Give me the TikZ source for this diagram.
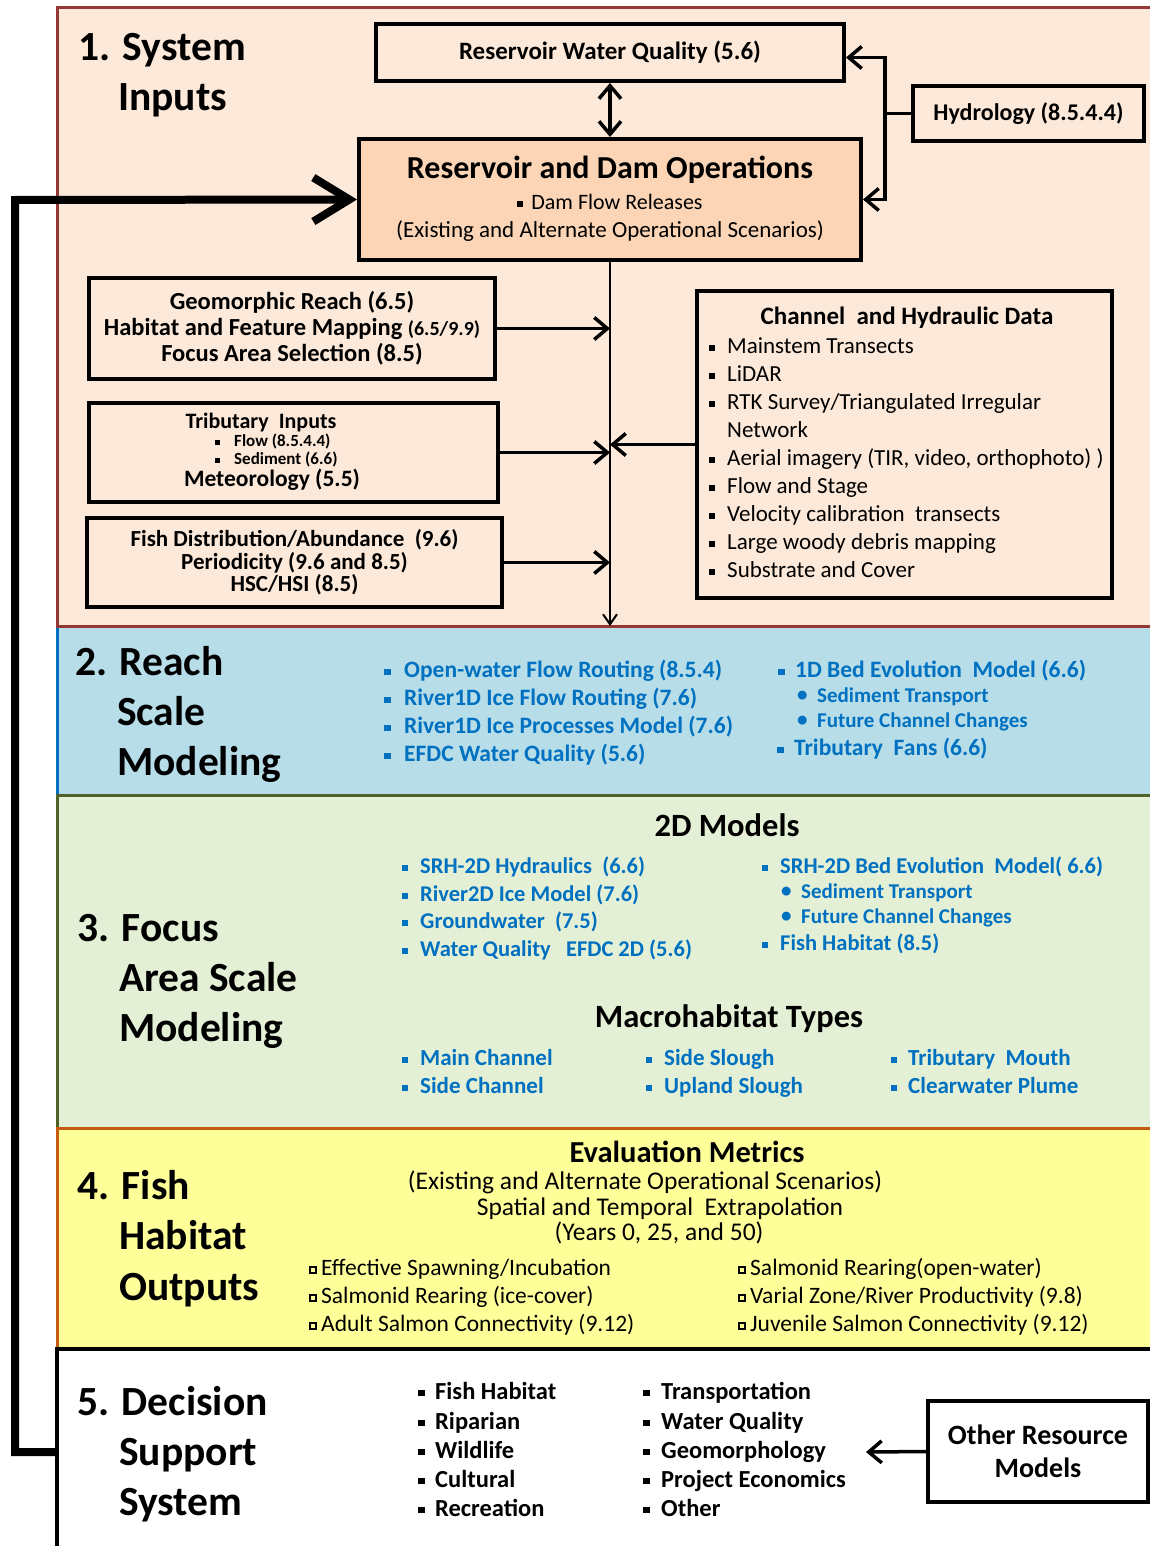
\documentclass[tikz,border=0pt]{standalone}
\usepackage{fontspec}
\setmainfont{Carlito}
\usetikzlibrary{arrows.meta}
\definecolor{pAfill}{HTML}{FDE9D9}
\definecolor{pAline}{HTML}{953735}
\definecolor{damfill}{HTML}{FBD5B5}
\definecolor{pBfill}{HTML}{B7DDE8}
\definecolor{pBline}{HTML}{0070C0}
\definecolor{pCfill}{HTML}{E4F0D6}
\definecolor{pCline}{HTML}{4F6228}
\definecolor{pDfill}{HTML}{FFFF99}
\definecolor{pDline}{HTML}{C55A11}
\definecolor{bluetext}{HTML}{0070C0}
\newcommand\fsz[2]{\fontsize{#1}{#2}\selectfont}
\newcommand\sqb{\rule[0.12em]{0.27em}{0.27em}}
\newcommand\hsq{{\setlength\fboxsep{0pt}\setlength\fboxrule{0.06em}\raisebox{0.15em}{\fbox{\makebox[0.2em]{\rule{0pt}{0.2em}}}}}}
\newcommand\dotb{\raisebox{0.05em}{\textbullet}}
\newcommand\itm[3]{\makebox[#1][l]{#2}#3}
\begin{document}
\begin{tikzpicture}[x=1pt,y=-1pt,
  box/.style={draw=black, line width=4, inner sep=0pt, align=center},
  lbl/.style={inner sep=0pt, anchor=base west, yshift={-0.33*#1}},
  ctr/.style={inner sep=0pt, anchor=base, align=center, yshift={-0.33*#1}},
  head/.style={lbl=41.5, font=\fsz{41.5}{41.5}\bfseries},
  conn/.style={line width=3.5, -{Straight Barb[length=13pt,width=22pt]}},
  bta/.style={lbl=23.5, text=bluetext, font=\fsz{23.5}{23.5}\bfseries},
  btb/.style={lbl=21, text=bluetext, font=\fsz{21}{21}\bfseries},
  btc/.style={lbl=22.5, text=bluetext, font=\fsz{22.5}{22.5}\bfseries},
  btd/.style={lbl=23, text=bluetext, font=\fsz{23}{23}\bfseries},
  chl/.style={lbl=23, font=\fsz{23}{23}},
  evl/.style={lbl=23.5, font=\fsz{23.5}{23.5}},
  dsl/.style={lbl=24.5, font=\fsz{24.5}{24.5}\bfseries}]
\useasboundingbox (0,0) rectangle (1149,1546);
% ---- panel backgrounds
\fill[pAfill] (57,8) rectangle (1170,626);
\fill[pBfill] (57,626) rectangle (1170,795);
\fill[pCfill] (57,795) rectangle (1170,1128);
\fill[pDfill] (57,1128) rectangle (1170,1349);
\draw[pAline, line width=3] (1170,8) -- (57,8) -- (57,626) -- (1170,626);
\draw[pBline, line width=3] (57,627.5) -- (57,795);
\draw[pCline, line width=3] (1170,795) -- (57,795) -- (57,1128);
\draw[pDline, line width=3] (1170,1128) -- (57,1128) -- (57,1349);
\draw[black, line width=4] (1170,1349) -- (57,1349) -- (57,1550);
\coordinate (p5left) at (57,1452);
\coordinate (fbk) at (15,200);
\coordinate (p2top) at (610,626);
\coordinate (dsarr) at (866,1452);
% ---- panel 1
\node[head] (h1a) at (78,47) {1. System};
\node[head] (h1b) at (118,97) {Inputs};
\node[box, minimum width=468, minimum height=57, font=\fsz{25}{25}\bfseries] (rwq) at (610,52.5) {Reservoir Water Quality (5.6)};
\node[box, minimum width=231, minimum height=55, font=\fsz{24}{24}\bfseries] (hyd) at (1028.5,113.5) {Hydrology (8.5.4.4)};
\node[box, fill=damfill, minimum width=502, minimum height=121] (rdo) at (610,199.5) {};
\node[ctr=32, font=\fsz{32}{32}\bfseries] (rdot) at (610,168) {Reservoir and Dam Operations};
\node[ctr=22, font=\fsz{22}{22}] (rdoa) at (610,202) {\sqb\hspace{8pt}Dam Flow Releases};
\node[ctr=23, font=\fsz{23}{23}] (rdob) at (610,230) {(Existing and Alternate Operational Scenarios)};
\node[box, minimum width=406, minimum height=101, font=\fsz{24.5}{26}\bfseries] (geo) at (292,328.5) {Geomorphic Reach (6.5)\\Habitat and Feature Mapping {\fsz{20}{26}(6.5/9.9)}\\Focus Area Selection (8.5)};
\node[box, minimum width=409, minimum height=99] (trib) at (293.5,452.5) {};
\node[ctr=22, font=\fsz{22}{22}\bfseries] (triba) at (261,421) {Tributary\ \ Inputs};
\node[lbl=17, font=\fsz{17}{17}\bfseries] (tribb) at (215,441) {\itm{19pt}{\sqb}{Flow (8.5.4.4)}};
\node[lbl=17, font=\fsz{17}{17}\bfseries] (tribc) at (215,459) {\itm{19pt}{\sqb}{Sediment (6.6)}};
\node[ctr=23.5, font=\fsz{23.5}{23.5}\bfseries] (tribd) at (272,479) {Meteorology (5.5)};
\node[box, minimum width=415, minimum height=89, font=\fsz{23}{22.5}\bfseries] (fish) at (294.5,562.5) {Fish Distribution/Abundance\ \ (9.6)\\Periodicity (9.6 and 8.5)\\HSC/HSI (8.5)};
\node[box, minimum width=415, minimum height=307] (chan) at (904.5,444.5) {};
\node[ctr=25, font=\fsz{25}{25}\bfseries] (chant) at (907,316) {Channel\ \ and Hydraulic Data};
\node[chl] (cha) at (709,346) {\itm{18pt}{\sqb}{Mainstem Transects}};
\node[chl] (chb) at (709,374) {\itm{18pt}{\sqb}{LiDAR}};
\node[chl] (chc) at (709,402) {\itm{18pt}{\sqb}{RTK Survey/Triangulated Irregular}};
\node[chl] (chd) at (727,430) {Network};
\node[chl] (che) at (709,458) {\itm{18pt}{\sqb}{Aerial imagery (TIR, video, orthophoto) )}};
\node[chl] (chf) at (709,486) {\itm{18pt}{\sqb}{Flow and Stage}};
\node[chl] (chg) at (709,514) {\itm{18pt}{\sqb}{Velocity calibration\ \ transects}};
\node[chl] (chh) at (709,542) {\itm{18pt}{\sqb}{Large woody debris mapping}};
\node[chl] (chi) at (709,570) {\itm{18pt}{\sqb}{Substrate and Cover}};
% connectors panel 1
\draw[line width=8, -{Straight Barb[length=36pt,width=44pt]}] (p5left) -| (fbk) -- (rdo.west);
\draw[line width=3.5, {Straight Barb[length=13pt,width=22pt]}-{Straight Barb[length=13pt,width=22pt]}] (rwq.south) -- (rdo.north);
\draw[line width=3.5] (hyd.west) -- ++(-26,0) coordinate (hj);
\draw[conn] (hj) |- ([yshift=-5pt]rwq.east);
\draw[conn] (hj) |- (rdo.east);
\draw[line width=2, -{Straight Barb[length=10pt,width=14pt]}] (rdo.south) -- (p2top);
\draw[conn] (geo.east) -- (geo.east -| rdo.south);
\draw[conn] (trib.east) -- (trib.east -| rdo.south);
\draw[conn] (fish.east) -- (fish.east -| rdo.south);
\draw[conn] (chan.west) -- (chan.west -| rdo.south);
% ---- panel 2
\node[head] (h2a) at (75,662) {2. Reach};
\node[head] (h2b) at (117,712) {Scale};
\node[head] (h2c) at (117,762) {Modeling};
\node[bta] (ra) at (384,670) {\itm{20pt}{\sqb}{Open-water Flow Routing (8.5.4)}};
\node[bta] (rb) at (384,698) {\itm{20pt}{\sqb}{River1D Ice Flow Routing (7.6)}};
\node[bta] (rc) at (384,726) {\itm{20pt}{\sqb}{River1D Ice Processes Model (7.6)}};
\node[bta] (rd) at (384,754) {\itm{20pt}{\sqb}{EFDC Water Quality (5.6)}};
\node[bta] (re) at (778,670) {\itm{17pt}{\sqb}{1D Bed Evolution\ \ Model (6.6)}};
\node[btb] (rf) at (797,696) {\itm{20pt}{\dotb}{Sediment Transport}};
\node[btb] (rg) at (797,721) {\itm{20pt}{\dotb}{Future Channel Changes}};
\node[bta] (rh) at (777,748) {\itm{17pt}{\sqb}{Tributary\ \ Fans (6.6)}};
% ---- panel 3
\node[head] (h3a) at (77,928) {3. Focus};
\node[head] (h3b) at (119,978) {Area Scale};
\node[head] (h3c) at (119,1028) {Modeling};
\node[ctr=32.5, font=\fsz{32.5}{32.5}\bfseries] (tdm) at (727,826) {2D Models};
\node[btc] (fa) at (402,866) {\itm{18pt}{\sqb}{SRH-2D Hydraulics\ \ (6.6)}};
\node[btc] (fb) at (402,894) {\itm{18pt}{\sqb}{River2D Ice Model (7.6)}};
\node[btc] (fc) at (402,921) {\itm{18pt}{\sqb}{Groundwater\ \ (7.5)}};
\node[btc] (fd) at (402,949) {\itm{18pt}{\sqb}{Water Quality\ \ \ EFDC 2D (5.6)}};
\node[btc] (fe) at (762,866) {\itm{18pt}{\sqb}{SRH-2D Bed Evolution\ \ Model( 6.6)}};
\node[btb] (ff) at (781,892) {\itm{20pt}{\dotb}{Sediment Transport}};
\node[btb] (fg) at (781,917) {\itm{20pt}{\dotb}{Future Channel Changes}};
\node[btc] (fh) at (762,943) {\itm{18pt}{\sqb}{Fish Habitat\ (8.5)}};
\node[ctr=32.5, font=\fsz{32.5}{32.5}\bfseries] (mht) at (729,1017) {Macrohabitat Types};
\node[btd] (ma) at (402,1058) {\itm{18pt}{\sqb}{Main Channel}};
\node[btd] (mb) at (402,1086) {\itm{18pt}{\sqb}{Side Channel}};
\node[btd] (mc) at (646,1058) {\itm{18pt}{\sqb}{Side Slough}};
\node[btd] (md) at (646,1086) {\itm{18pt}{\sqb}{Upland Slough}};
\node[btd] (me) at (891,1058) {\itm{17pt}{\sqb}{Tributary\ \ Mouth}};
\node[btd] (mf) at (891,1086) {\itm{17pt}{\sqb}{Clearwater Plume}};
% ---- panel 4
\node[head] (h4a) at (77,1186) {4. Fish};
\node[head] (h4b) at (119,1236) {Habitat};
\node[head] (h4c) at (119,1287) {Outputs};
\node[ctr=30.5, font=\fsz{30.5}{30.5}\bfseries] (evm) at (687,1152) {Evaluation Metrics};
\node[ctr=25.5, font=\fsz{25.5}{25.5}] (eva) at (645,1181) {(Existing and Alternate Operational Scenarios)};
\node[ctr=25.5, font=\fsz{25.5}{25.5}] (evb) at (660,1207) {Spatial and Temporal\ \ Extrapolation};
\node[ctr=25.5, font=\fsz{25.5}{25.5}] (evc) at (659,1232) {(Years 0, 25, and 50)};
\node[evl] (ea) at (309,1268) {\itm{12pt}{\hsq}{Effective Spawning/Incubation}};
\node[evl] (eb) at (309,1296) {\itm{12pt}{\hsq}{Salmonid Rearing (ice-cover)}};
\node[evl] (ec) at (309,1324) {\itm{12pt}{\hsq}{Adult Salmon Connectivity (9.12)}};
\node[evl] (ed) at (738,1268) {\itm{12pt}{\hsq}{Salmonid Rearing(open-water)}};
\node[evl] (ee) at (738,1296) {\itm{12pt}{\hsq}{Varial Zone/River Productivity (9.8)}};
\node[evl] (ef) at (738,1324) {\itm{12pt}{\hsq}{Juvenile Salmon Connectivity (9.12)}};
% ---- panel 5
\node[head] (h5a) at (77,1402) {5. Decision};
\node[head] (h5b) at (119,1452) {Support};
\node[head] (h5c) at (119,1502) {System};
\node[dsl] (da) at (418,1391) {\itm{17pt}{\sqb}{Fish Habitat}};
\node[dsl] (db) at (418,1421) {\itm{17pt}{\sqb}{Riparian}};
\node[dsl] (dc) at (418,1450) {\itm{17pt}{\sqb}{Wildlife}};
\node[dsl] (dd) at (418,1479) {\itm{17pt}{\sqb}{Cultural}};
\node[dsl] (de) at (418,1508) {\itm{17pt}{\sqb}{Recreation}};
\node[dsl] (dg) at (643,1391) {\itm{18pt}{\sqb}{Transportation}};
\node[dsl] (dh) at (643,1421) {\itm{18pt}{\sqb}{Water Quality}};
\node[dsl] (di) at (643,1450) {\itm{18pt}{\sqb}{Geomorphology}};
\node[dsl] (dj) at (643,1479) {\itm{18pt}{\sqb}{Project Economics}};
\node[dsl] (dk) at (643,1508) {\itm{18pt}{\sqb}{Other}};
\node[box, minimum width=220, minimum height=101, font=\fsz{28}{33}\bfseries] (oth) at (1038,1451.5) {Other Resource\\Models};
\draw[conn] (oth.west) -- (dsarr);
\end{tikzpicture}
\end{document}
